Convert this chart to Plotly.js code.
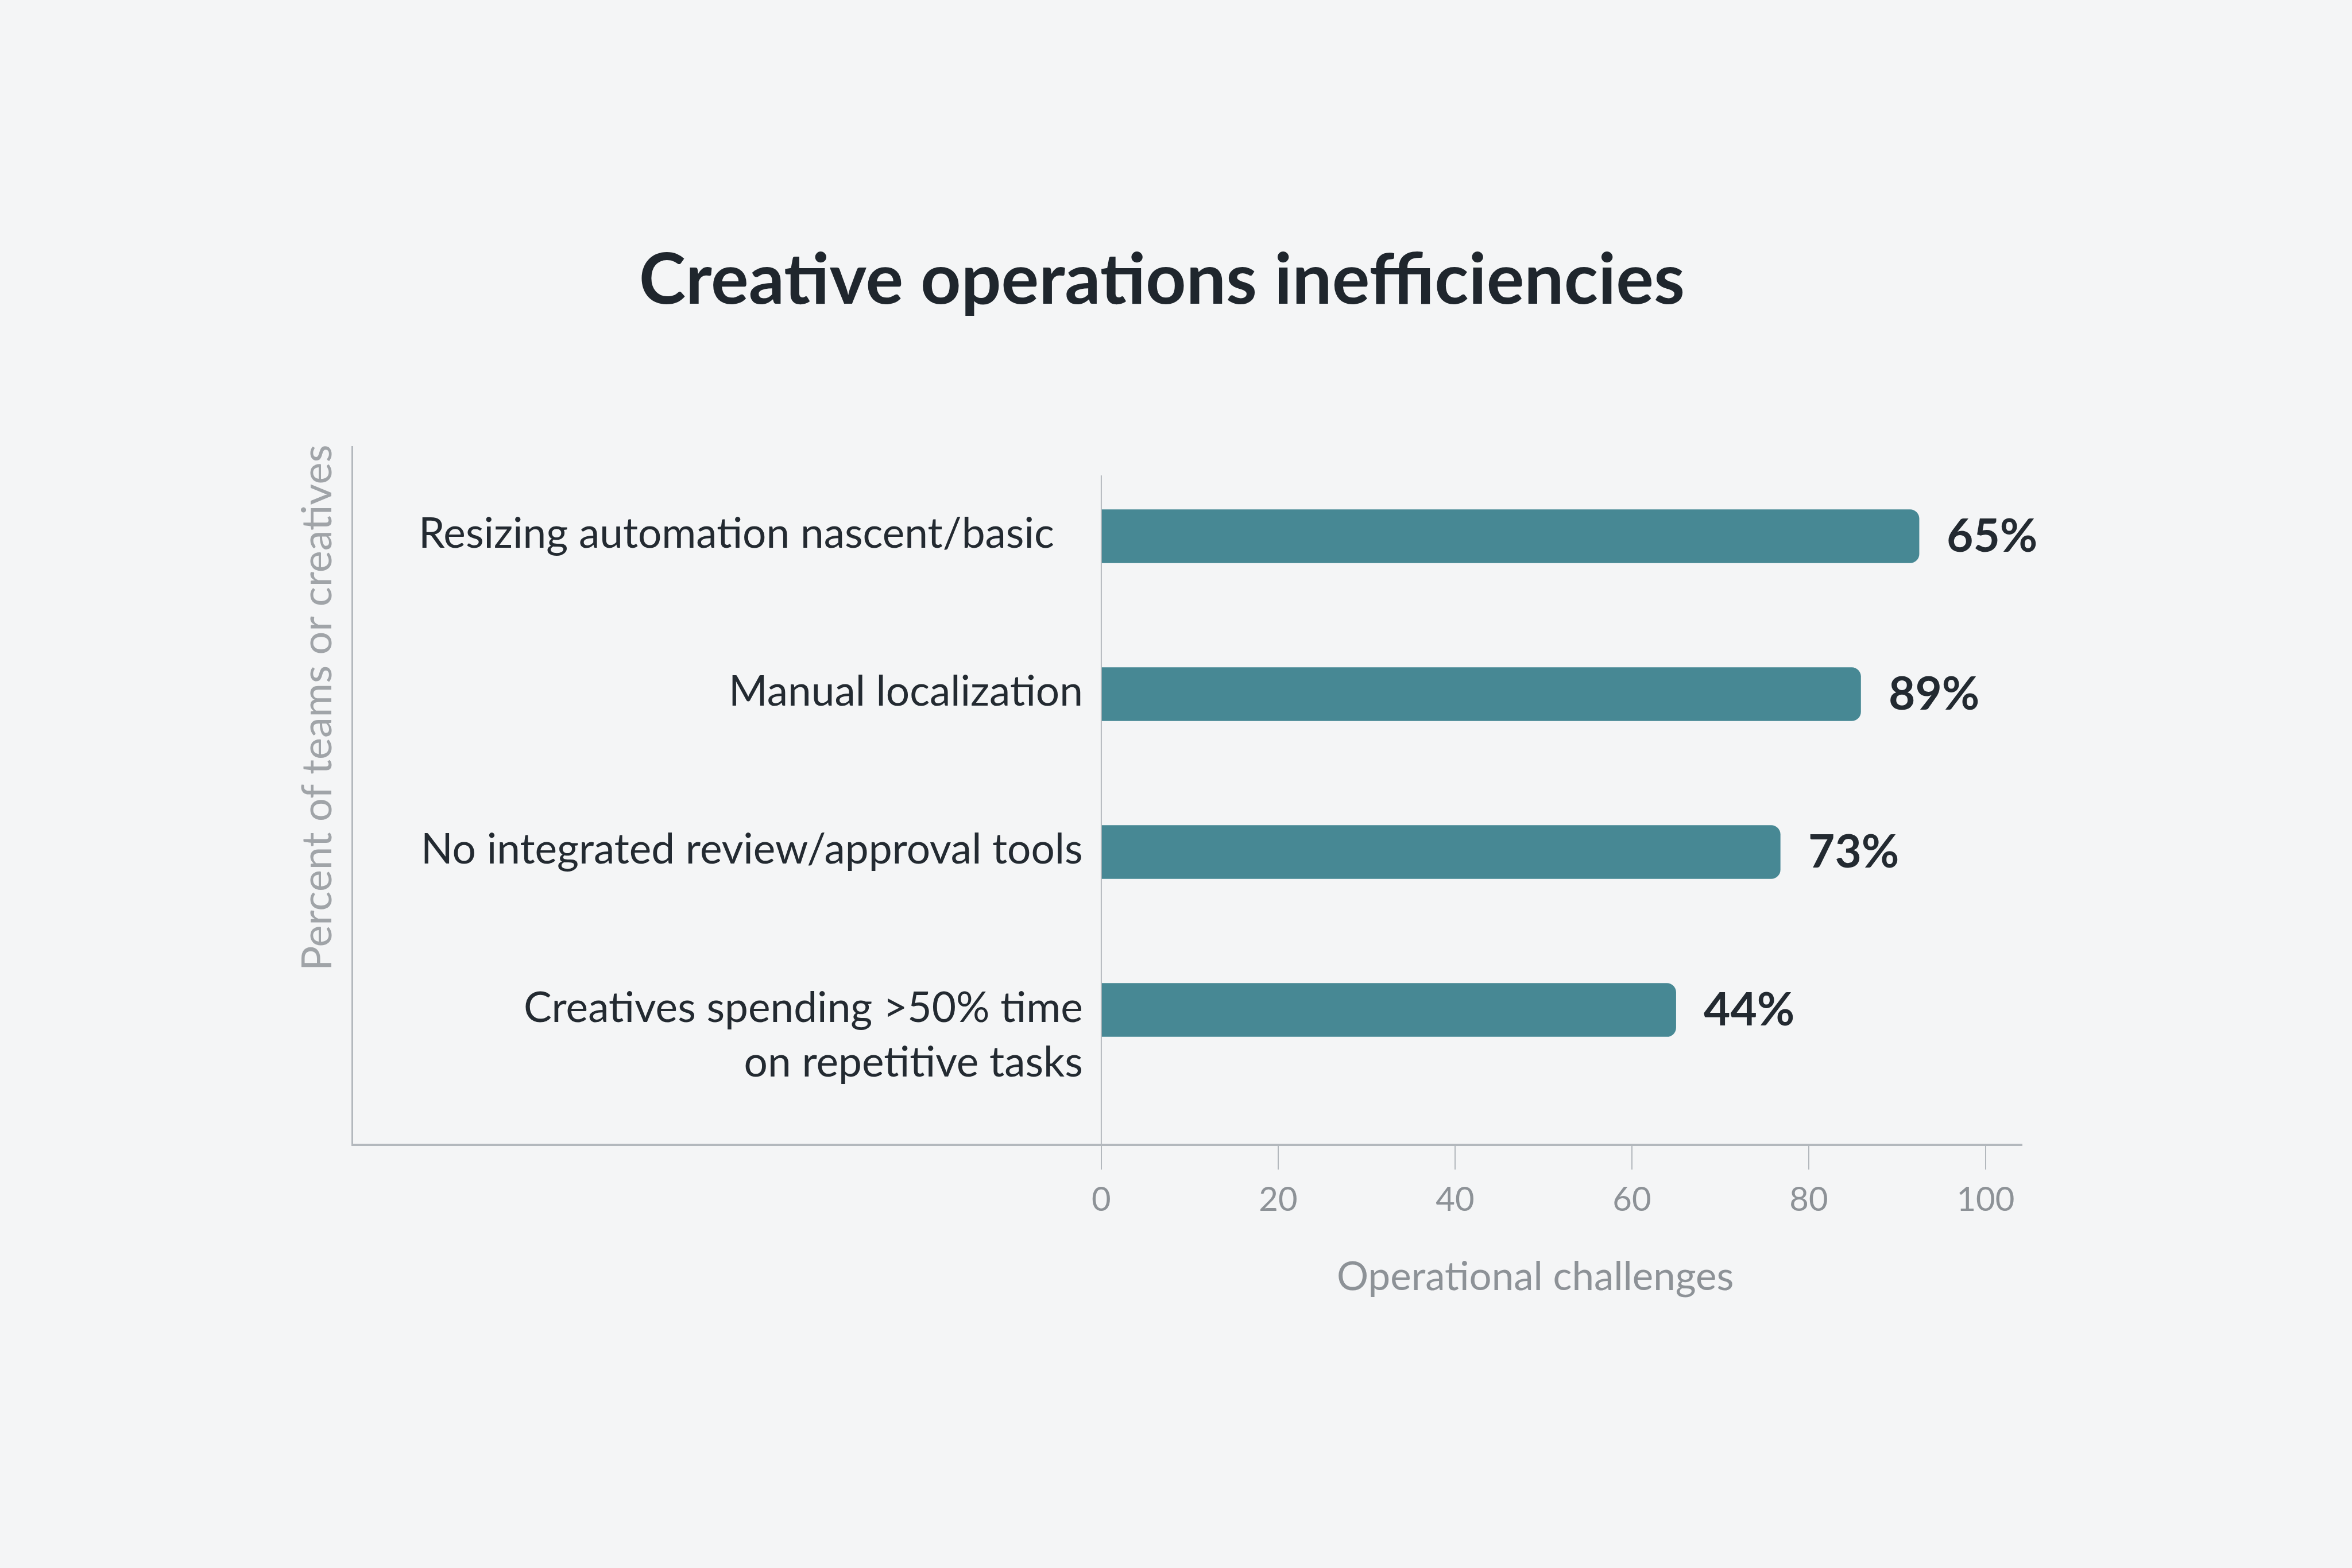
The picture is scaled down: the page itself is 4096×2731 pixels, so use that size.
<!DOCTYPE html>
<html>
<head>
<meta charset="utf-8">
<script src="https://cdn.plot.ly/plotly-3.0.1.min.js"></script>
<style>
  html, body { margin: 0; padding: 0; background: #f4f5f6; }
  #chart { width: 4096px; height: 2731px; }
</style>
</head>
<body>
<div id="chart"></div>
<script>
// categories top to bottom
const categories = [
  "Resizing automation nascent/basic",
  "Manual localization",
  "No integrated review/approval tools",
  "Creatives spending >50% time<br>on repetitive tasks"
];
// bar lengths as drawn against the axis
const barValues = [92.5, 85.9, 76.8, 65.0];
// the labels printed next to each bar
const valueLabels = ["65%", "89%", "73%", "44%"];
const xTicks = [0, 20, 40, 60, 80, 100];

const barColor = "#478894";
const darkText = "#232a31";
const grayText = "#8d9297";
const axisGray = "#b3b8bd";
const font = "Lato, 'Open Sans', sans-serif";

// the first label sits a little further left than the rest
const labelNudge = [-50, 0, 0, 0];

let annotations = [];

categories.forEach((cat, i) => {
  const lines = cat.split("<br>").length;
  annotations.push({
    x: 0, y: cat, xref: "x", yref: "y",
    text: cat,
    showarrow: false,
    xanchor: "right", yanchor: "middle", align: "right",
    xshift: -30 + labelNudge[i],
    // keep the first line level with the bar
    yshift: -(lines - 1) * 48 + 8,
    font: { family: font, size: 73, color: darkText }
  });
  annotations.push({
    x: barValues[i], y: cat, xref: "x", yref: "y",
    text: "<b>" + valueLabels[i] + "</b>",
    showarrow: false,
    xanchor: "left", yanchor: "middle",
    xshift: 46, yshift: 4,
    font: { family: font, size: 80, color: darkText }
  });
});

// axis titles
annotations.push({
  x: 0.708, y: -0.188, xref: "paper", yref: "paper",
  text: "Operational challenges",
  showarrow: false, xanchor: "center", yanchor: "middle",
  font: { family: font, size: 69, color: grayText }
});
annotations.push({
  x: -0.023, y: 0.625, xref: "paper", yref: "paper",
  text: "Percent of teams or creatives",
  textangle: -90,
  showarrow: false, xanchor: "center", yanchor: "middle",
  font: { family: font, size: 72, color: "#a0a4a8" }
});

const trace = {
  type: "bar",
  orientation: "h",
  x: barValues,
  y: categories,
  width: 0.34,
  marker: { color: barColor, cornerradius: 16 },
  hoverinfo: "skip"
};

const layout = {
  width: 4096,
  height: 2731,
  paper_bgcolor: "#f4f5f6",
  plot_bgcolor: "rgba(0,0,0,0)",
  margin: { l: 615, r: 574, t: 777, b: 739 },
  showlegend: false,
  title: {
    text: "Creative operations inefficiencies",
    x: 0.494, xanchor: "center",
    y: 0.822, yanchor: "middle", yref: "container",
    font: { family: font, size: 123, color: "#1f262d", weight: 700 }
  },
  xaxis: {
    range: [-84.6, 104.16],
    tickvals: xTicks,
    ticktext: xTicks.map(String),
    ticks: "outside",
    ticklen: 41,
    tickwidth: 2,
    tickcolor: axisGray,
    ticklabelstandoff: 2,
    tickfont: { family: font, size: 58, color: grayText },
    showgrid: false,
    zeroline: false,
    showline: true,
    linecolor: axisGray,
    linewidth: 4,
    fixedrange: true
  },
  yaxis: {
    type: "category",
    categoryorder: "array",
    categoryarray: categories,
    range: [3.847, -0.571],
    showticklabels: false,
    ticks: "",
    showgrid: false,
    zeroline: false,
    showline: true,
    linecolor: axisGray,
    linewidth: 3,
    fixedrange: true
  },
  shapes: [
    {
      type: "line", xref: "x", yref: "paper",
      x0: 0, x1: 0, y0: 0, y1: 0.958,
      line: { color: axisGray, width: 2 }
    }
  ],
  annotations: annotations
};

Plotly.newPlot("chart", [trace], layout, { displayModeBar: false, staticPlot: true });
</script>
</body>
</html>
